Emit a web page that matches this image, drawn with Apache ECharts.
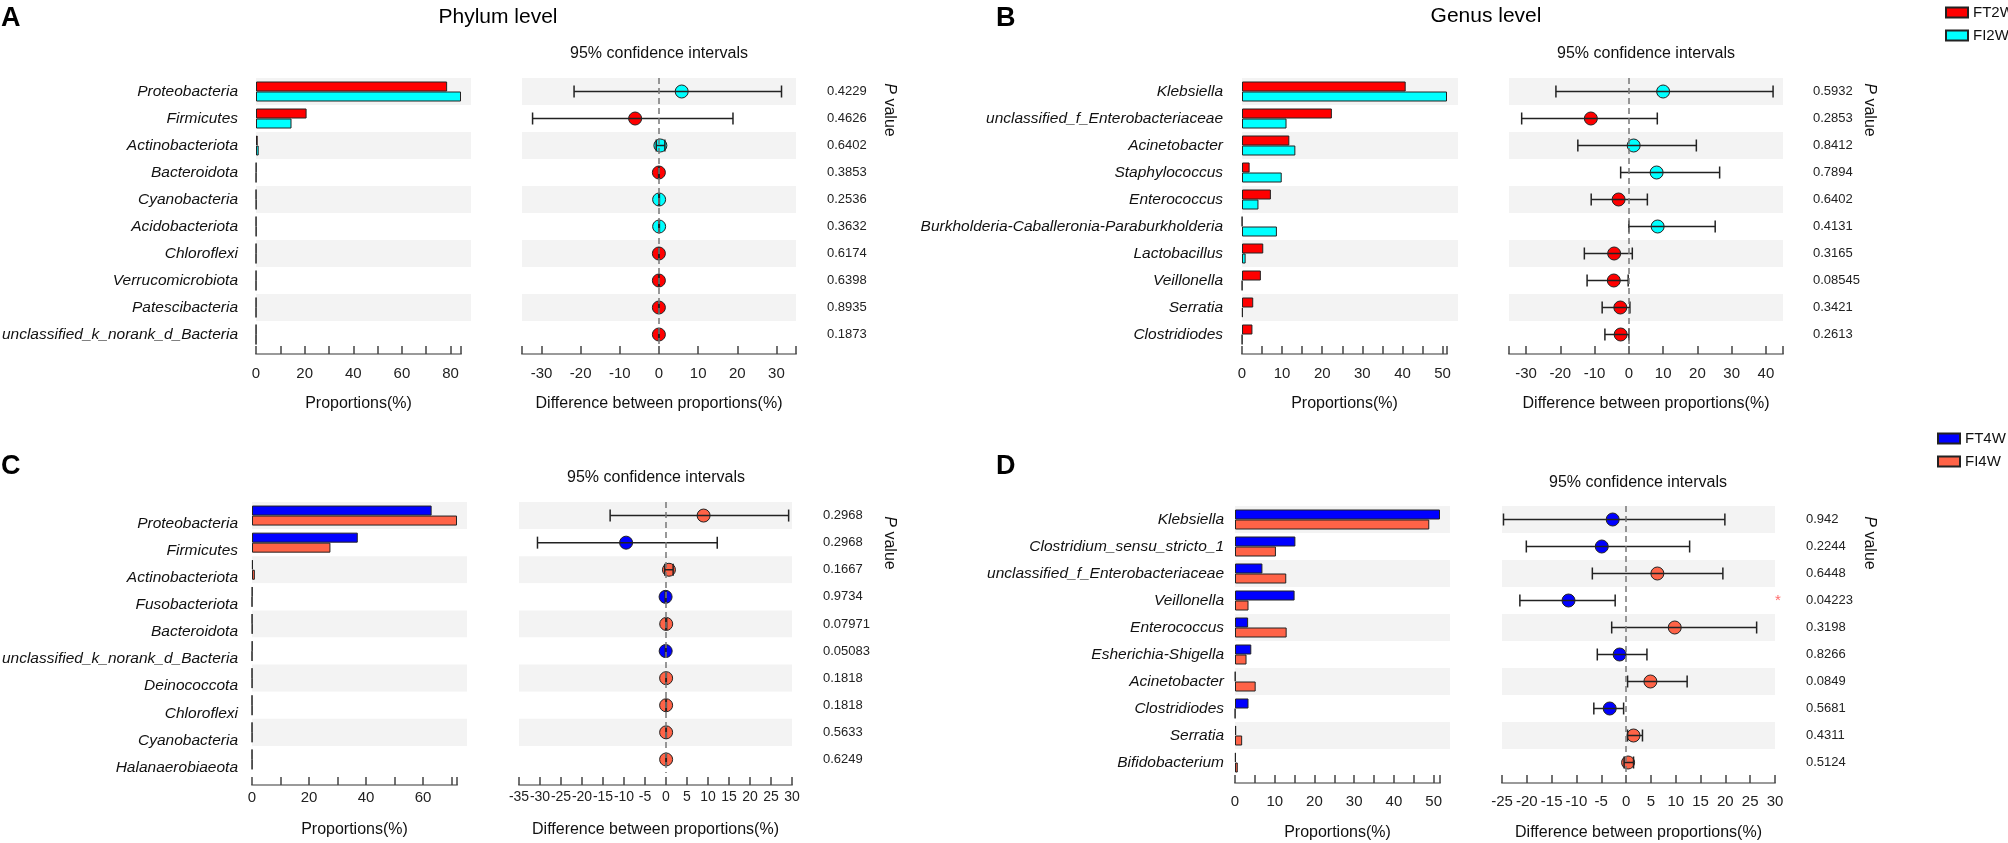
<!DOCTYPE html>
<html><head><meta charset="utf-8">
<script src="https://cdn.jsdelivr.net/npm/echarts@6/dist/echarts.min.js"></script>
<style>html,body{margin:0;padding:0;background:#fff}#c{width:2008px;height:843px}</style>
</head><body><div id="c"></div>
<script>
// ---------------- DATA ----------------
// Panel A : Phylum level, 2 weeks
const catsA = ['Proteobacteria','Firmicutes','Actinobacteriota','Bacteroidota','Cyanobacteria','Acidobacteriota','Chloroflexi','Verrucomicrobiota','Patescibacteria','unclassified_k_norank_d_Bacteria'];
const ft2wA = [78.6, 20.8, 0.7, 0.1, 0.05, 0.05, 0.05, 0.05, 0.05, 0.05];
const fi2wA = [84.3, 14.6, 1.1, 0.05, 0.1, 0.1, 0.02, 0.02, 0.02, 0.02];
const diffA = [5.8, -6.1, 0.35, -0.03, 0.03, 0.03, -0.03, -0.03, -0.03, -0.03];
const lowA  = [-21.7, -32.3, -0.7, -0.1, -0.05, -0.05, -0.08, -0.08, -0.08, -0.08];
const highA = [31.3, 18.9, 1.5, 0.05, 0.1, 0.1, 0.03, 0.03, 0.03, 0.03];
const pA    = ['0.4229','0.4626','0.6402','0.3853','0.2536','0.3632','0.6174','0.6398','0.8935','0.1873'];

// Panel B : Genus level, 2 weeks
const catsB = ['Klebsiella','unclassified_f_Enterobacteriaceae','Acinetobacter','Staphylococcus','Enterococcus','Burkholderia-Caballeronia-Paraburkholderia','Lactobacillus','Veillonella','Serratia','Clostridiodes'];
const ft2wB = [40.8, 22.4, 11.8, 1.9, 7.2, 0.05, 5.3, 4.7, 2.8, 2.6];
const fi2wB = [51.1, 11.1, 13.3, 9.9, 4.1, 8.7, 0.9, 0.05, 0.2, 0.05];
const diffB = [10.0, -11.1, 1.4, 8.1, -3.0, 8.4, -4.3, -4.4, -2.5, -2.4];
const lowB  = [-21.3, -31.3, -14.9, -2.4, -11.0, 0.0, -13.0, -12.2, -7.8, -7.0];
const highB = [42.1, 8.3, 19.7, 26.5, 5.4, 25.2, 1.0, -0.2, 0.3, 0.0];
const pB    = ['0.5932','0.2853','0.8412','0.7894','0.6402','0.4131','0.3165','0.08545','0.3421','0.2613'];

// Panel C : Phylum level, 4 weeks
const catsC = ['Proteobacteria','Firmicutes','Actinobacteriota','Fusobacteriota','Bacteroidota','unclassified_k_norank_d_Bacteria','Deinococcota','Chloroflexi','Cyanobacteria','Halanaerobiaeota'];
const ft4wC = [63.0, 37.1, 0.3, 0.1, 0.05, 0.1, 0.02, 0.02, 0.02, 0.02];
const fi4wC = [71.9, 27.5, 1.0, 0.02, 0.1, 0.02, 0.05, 0.05, 0.05, 0.05];
const diffC = [8.95, -9.5, 0.7, -0.1, 0.05, -0.08, 0.03, 0.03, 0.03, 0.03];
const lowC  = [-13.3, -30.6, -0.3, -0.2, -0.05, -0.15, -0.02, -0.02, -0.02, -0.02];
const highC = [29.2, 12.2, 1.7, 0.0, 0.15, 0.0, 0.08, 0.08, 0.08, 0.08];
const pC    = ['0.2968','0.2968','0.1667','0.9734','0.07971','0.05083','0.1818','0.1818','0.5633','0.6249'];

// Panel D : Genus level, 4 weeks
const catsD = ['Klebsiella','Clostridium_sensu_stricto_1','unclassified_f_Enterobacteriaceae','Veillonella','Enterococcus','Esherichia-Shigella','Acinetobacter','Clostridiodes','Serratia','Bifidobacterium'];
const ft4wD = [51.6, 15.2, 6.9, 15.0, 3.3, 4.1, 0.1, 3.4, 0.3, 0.2];
const fi4wD = [48.9, 10.3, 12.9, 3.4, 13.0, 2.9, 5.2, 0.05, 1.8, 0.7];
const diffD = [-2.7, -4.9, 6.3, -11.6, 9.8, -1.3, 4.9, -3.3, 1.5, 0.4];
const lowD  = [-24.7, -20.1, -6.8, -21.4, -2.9, -5.8, 0.3, -6.5, 0.3, -0.4];
const highD = [19.9, 12.8, 19.5, -2.2, 26.3, 4.2, 12.3, -0.5, 3.3, 1.5];
const pD    = ['0.942','0.2244','0.6448','0.04223','0.3198','0.8266','0.0849','0.5681','0.4311','0.5124'];

const groupsTop = ['FT2W','FI2W'];
const groupsBottom = ['FT4W','FI4W'];

// ---------------- STYLE / LAYOUT ----------------
const FONT = "'Liberation Sans',Arial,sans-serif";
const BAND = '#f3f3f3';
const colTop = ['#ff0000','#00ffff'];
const colBottom = ['#0000ff','#ff6347'];

const grids=[], xAxes=[], yAxes=[], series=[];

function mkGrid(left, top, width, height){
  return {left, top, width, height, containLabel:false, outerBoundsMode:'none'};
}

function addPanel(d, L){
  const axisLine = {show:true, lineStyle:{color:'#9a9a9a', width:2}};
  const axisTick = {show:true, inside:true, length:8, lineStyle:{color:'#444', width:1.5}};
  // background band grid for bar part
  const gBand = grids.length;
  grids.push(mkGrid(L.barLeft, L.top, L.bandW, L.height));
  xAxes.push({gridIndex:gBand, type:'value', min:0, max:1, show:false});
  const yBand = yAxes.length;
  yAxes.push({gridIndex:gBand, type:'category', data:d.cats, inverse:true,
    axisLine:{show:false}, axisTick:{show:false}, axisLabel:{show:false},
    splitArea:{show:true, areaStyle:{color:[BAND,'#ffffff']}}});
  series.push({type:'scatter', xAxisIndex:xAxes.length-1, yAxisIndex:yBand, data:[], silent:true});

  // bar grid
  const gBar = grids.length;
  grids.push(mkGrid(L.barLeft, L.top, L.barW, L.height));
  const xBar = xAxes.length;
  const maxV = Math.max(...d.g1, ...d.g2);
  xAxes.push({gridIndex:gBar, type:'value', min:0, max:maxV, interval:L.barTick, offset:L.axisOffset,
    axisLine, axisTick, splitLine:{show:false},
    axisLabel:{margin:L.tickMargin, fontSize:15, color:'#222', fontFamily:FONT, hideOverlap:false,
      showMinLabel:true,
      formatter:v => (Math.abs(v % L.barLabel) < 1e-6 ? String(v) : '')},
    name:'Proportions(%)', nameLocation:'middle', nameGap:L.nameGap,
    nameTextStyle:{fontSize:16, color:'#111', fontFamily:FONT}});
  const yBar = yAxes.length;
  yAxes.push({gridIndex:gBar, type:'category', data:d.cats, inverse:true,
    axisLine:{show:false}, axisTick:{show:false}, splitArea:{show:false},
    axisLabel:{fontStyle:'italic', fontSize:15.5, color:'#111', fontFamily:FONT, margin:L.catMargin,
      verticalAlign: L.catShift ? 'top' : 'middle', lineHeight:16, interval:0}});
  series.push({type:'bar', name:d.names[0], xAxisIndex:xBar, yAxisIndex:yBar, data:d.g1,
    barWidth:10, barGap:'0%', itemStyle:{color:d.colors[0], borderColor:'#222', borderWidth:1}});
  series.push({type:'bar', name:d.names[1], xAxisIndex:xBar, yAxisIndex:yBar, data:d.g2,
    barWidth:10, barGap:'0%', itemStyle:{color:d.colors[1], borderColor:'#222', borderWidth:1}});

  // CI grid
  const gCI = grids.length;
  grids.push(mkGrid(L.ciLeft, L.top, L.ciW, L.height));
  const xCI = xAxes.length;
  xAxes.push({gridIndex:gCI, type:'value', min:L.ciMin, max:L.ciMax, minInterval:L.ciTick, maxInterval:L.ciTick,
    offset:L.axisOffset, axisLine, axisTick, splitLine:{show:false},
    axisLabel:{margin:L.tickMargin, fontSize:L.ciFont, color:'#222', fontFamily:FONT, hideOverlap:false,
      showMinLabel:true, showMaxLabel:true,
      formatter:v => (Math.abs(v % L.ciLabel) < 1e-6 ? String(v) : '')},
    name:'Difference between proportions(%)', nameLocation:'middle', nameGap:L.nameGap,
    nameTextStyle:{fontSize:16, color:'#111', fontFamily:FONT}});
  const yCI = yAxes.length;
  yAxes.push({gridIndex:gCI, type:'category', data:d.cats, inverse:true,
    axisLine:{show:false}, axisTick:{show:false}, axisLabel:{show:false},
    splitArea:{show:true, areaStyle:{color:[BAND,'#ffffff']}}});
  yAxes.push({gridIndex:gCI, type:'category', data:d.cats, inverse:true, position:'right',
    axisLine:{show:false}, axisTick:{show:false},
    axisLabel:{align:'left', margin:L.pMargin, fontSize:13, color:'#222', fontFamily:FONT, interval:0,
      formatter:(v, i) => d.p[i]}});
  series.push({type:'scatter', xAxisIndex:xCI, yAxisIndex:yCI, symbolSize:13, z:3,
    data:d.diff.map((v,i)=>({value:[v,i], itemStyle:{color: v>0 ? d.colors[1] : d.colors[0]}})),
    itemStyle:{borderColor:'#222', borderWidth:1, opacity:1},
    markLine:{silent:true, symbol:['none','none'], label:{show:false},
      lineStyle:{type:[6,4], color:'#777', width:1.5}, data:[{xAxis:0}]}});
  series.push({type:'custom', xAxisIndex:xCI, yAxisIndex:yCI, z:4,
    data:d.low.map((lo,i)=>[lo, d.high[i], i]),
    encode:{x:[0,1], y:2},
    renderItem:(params, api)=>{
      const a = api.coord([api.value(0), api.value(2)]);
      const b = api.coord([api.value(1), api.value(2)]);
      const st = {stroke:'#222', lineWidth:1.5};
      return {type:'group', children:[
        {type:'line', shape:{x1:a[0], y1:a[1], x2:b[0], y2:b[1]}, style:st},
        {type:'line', shape:{x1:a[0], y1:a[1]-6, x2:a[0], y2:a[1]+6}, style:st},
        {type:'line', shape:{x1:b[0], y1:b[1]-6, x2:b[0], y2:b[1]+6}, style:st}
      ]};
    }});
}

addPanel({cats:catsA, g1:ft2wA, g2:fi2wA, diff:diffA, low:lowA, high:highA, p:pA, names:groupsTop, colors:colTop},
  {barLeft:256, top:78, height:270, bandW:215, barW:205, barTick:10, barLabel:20, catMargin:18, catShift:false,
   ciLeft:522, ciW:274, ciMin:-35, ciMax:35, ciTick:10, ciLabel:10, ciFont:15, axisOffset:6, tickMargin:12, nameGap:42, pMargin:31});
addPanel({cats:catsB, g1:ft2wB, g2:fi2wB, diff:diffB, low:lowB, high:highB, p:pB, names:groupsTop, colors:colTop},
  {barLeft:1242, top:78, height:270, bandW:216, barW:205, barTick:5, barLabel:10, catMargin:19, catShift:false,
   ciLeft:1509, ciW:274, ciMin:-35, ciMax:45, ciTick:10, ciLabel:10, ciFont:15, axisOffset:6, tickMargin:12, nameGap:42, pMargin:30});
addPanel({cats:catsC, g1:ft4wC, g2:fi4wC, diff:diffC, low:lowC, high:highC, p:pC, names:groupsBottom, colors:colBottom},
  {barLeft:252, top:502, height:271, bandW:215, barW:205, barTick:10, barLabel:20, catMargin:14, catShift:true,
   ciLeft:519, ciW:273, ciMin:-35, ciMax:30, ciTick:5, ciLabel:5, ciFont:14, axisOffset:12, tickMargin:5, nameGap:37, pMargin:31});
addPanel({cats:catsD, g1:ft4wD, g2:fi4wD, diff:diffD, low:lowD, high:highD, p:pD, names:groupsBottom, colors:colBottom},
  {barLeft:1235, top:506, height:270, bandW:215, barW:205, barTick:5, barLabel:10, catMargin:11, catShift:false,
   ciLeft:1502, ciW:273, ciMin:-25, ciMax:30, ciTick:5, ciLabel:5, ciFont:15, axisOffset:7, tickMargin:11, nameGap:42, pMargin:31});

function txt(t, x, y, o){
  return {type:'text', x, y, z:100, style:Object.assign({text:t, fill:'#000', fontFamily:FONT, fontSize:16,
    align:'left', verticalAlign:'middle'}, o||{})};
}
const pv = (x,y)=>({type:'text', x, y, rotation:-Math.PI/2, z:100,
  style:{text:'{i|P} value', fill:'#111', fontFamily:FONT, fontSize:16, align:'center', verticalAlign:'middle',
    rich:{i:{fontStyle:'italic', fontSize:16, fontFamily:FONT, fill:'#111'}}}});

const graphics = [
  txt('A', 1, 19, {fontWeight:'bold', fontSize:27}),
  txt('B', 996, 19, {fontWeight:'bold', fontSize:27}),
  txt('C', 1, 467, {fontWeight:'bold', fontSize:27}),
  txt('D', 996, 467, {fontWeight:'bold', fontSize:27}),
  txt('Phylum level', 498, 17, {fontSize:21, align:'center'}),
  txt('Genus level', 1486, 16, {fontSize:21, align:'center'}),
  txt('95% confidence intervals', 659, 54, {fontSize:16, align:'center', fill:'#111'}),
  txt('95% confidence intervals', 1646, 54, {fontSize:16, align:'center', fill:'#111'}),
  txt('95% confidence intervals', 656, 478, {fontSize:16, align:'center', fill:'#111'}),
  txt('95% confidence intervals', 1638, 483, {fontSize:16, align:'center', fill:'#111'}),
  pv(889, 110), pv(1869, 110), pv(889, 543), pv(1869, 543),
  txt('*', 1775, 601, {fontSize:15, fill:'#ff6b6b'})
];

const chart = echarts.init(document.getElementById('c'), null, {renderer:'canvas'});
chart.setOption({
  animation:false,
  backgroundColor:'#fff',
  textStyle:{fontFamily:FONT},
  legend:[
    {data:groupsTop, orient:'vertical', left:1940, top:0, icon:'rect', itemWidth:22, itemHeight:10, itemGap:8,
     textStyle:{fontSize:15, color:'#111', fontFamily:FONT}},
    {data:groupsBottom, orient:'vertical', left:1932, top:426, icon:'rect', itemWidth:22, itemHeight:10, itemGap:8,
     textStyle:{fontSize:15, color:'#111', fontFamily:FONT}}
  ],
  grid:grids, xAxis:xAxes, yAxis:yAxes, series:series, graphic:graphics
});
</script></body></html>
